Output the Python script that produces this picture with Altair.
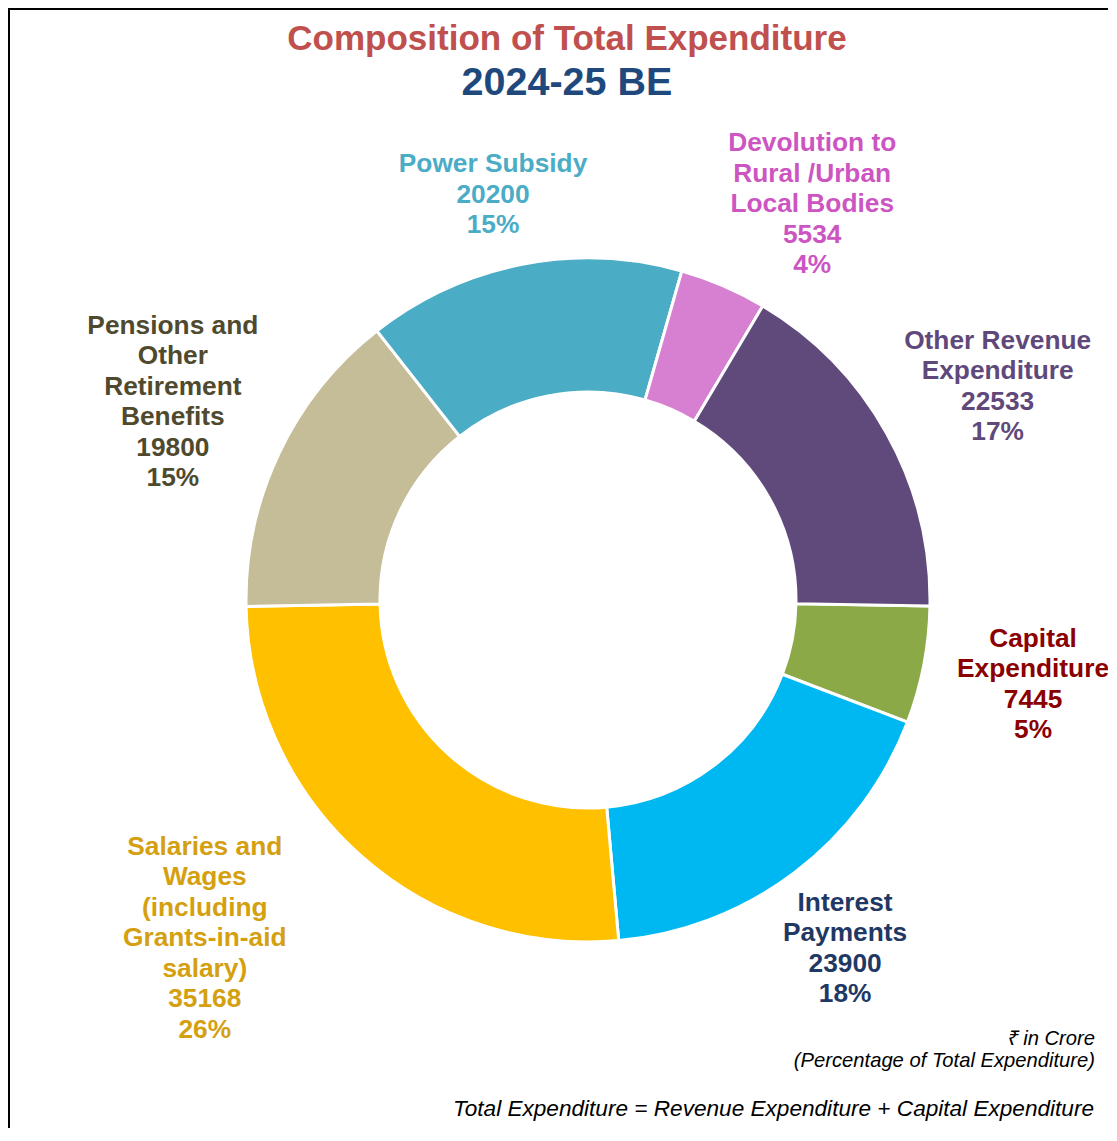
import math
import altair as alt
import pandas as pd

# ---- data ----
categories = [
    "Capital Expenditure",
    "Interest Payments",
    "Salaries and Wages (including Grants-in-aid salary)",
    "Pensions and Other Retirement Benefits",
    "Power Subsidy",
    "Devolution to Rural /Urban Local Bodies",
    "Other Revenue Expenditure",
]
label_lines = [
    ["Capital", "Expenditure"],
    ["Interest", "Payments"],
    ["Salaries and", "Wages", "(including", "Grants-in-aid", "salary)"],
    ["Pensions and", "Other", "Retirement", "Benefits"],
    ["Power Subsidy"],
    ["Devolution to", "Rural /Urban", "Local Bodies"],
    ["Other Revenue", "Expenditure"],
]
values = [7445, 23900, 35168, 19800, 20200, 5534, 22533]
percents = [5, 18, 26, 15, 15, 4, 17]

# ---- styling ----
slice_colors = ["#8BA946", "#00B8F1", "#FFC000", "#C4BD97", "#4BACC6", "#D77FD1", "#604A7B"]
text_colors = ["#8B0000", "#1F3864", "#D4A010", "#4F4A2E", "#4BACC6", "#CC55C2", "#5F497A"]
label_radius = [453, 433, 511, 460, 416, 455, 462]   # layout: label distance from centre
label_nudge = [-0.2, 0.7, 6.7, 0.1, -2.1, 6.2, 1.6]  # layout: angular nudge (deg)

START = math.radians(91)
CX, CY = 580, 592
R_OUT, R_IN = 342, 208
W, H = 1100, 1120
FONT = "Liberation Sans"
LH = 30.5

df = pd.DataFrame({
    "category": categories,
    "value": values,
    "ord": list(range(len(categories))),
    "fill": slice_colors,
    "tcol": text_colors,
    "label": ["\n".join(l + [str(v), f"{p}%"]) for l, v, p in zip(label_lines, values, percents)],
    "nlines": [len(l) + 2 for l in label_lines],
    "lr": label_radius,
    "nudge": label_nudge,
})

base = alt.Chart(df)

donut = base.mark_arc(outerRadius=R_OUT, innerRadius=R_IN, stroke="white", strokeWidth=3).encode(
    theta=alt.Theta("value:Q", stack=True, scale=alt.Scale(range=[START, START + 2 * math.pi])),
    order=alt.Order("ord:Q"),
    color=alt.Color("fill:N", scale=None),
    x=alt.value(CX),
    y=alt.value(CY),
    tooltip=["category:N", "value:Q"],
)

labels = base.transform_joinaggregate(
    total="sum(value)"
).transform_window(
    cum="sum(value)", sort=[alt.SortField("ord")], frame=[None, 0]
).transform_calculate(
    ang=f"{START} + 2*PI*(datum.cum - datum.value/2)/datum.total + datum.nudge*PI/180",
).transform_calculate(
    tx=f"{CX} + datum.lr*sin(datum.ang)",
    ty=f"{CY} - datum.lr*cos(datum.ang) - (datum.nlines - 1)*{LH}/2",
).mark_text(
    font=FONT, fontWeight="bold", fontSize=26.3, lineHeight=LH, lineBreak="\n",
    align="center", baseline="middle",
).encode(
    x=alt.X("tx:Q", scale=None, axis=None),
    y=alt.Y("ty:Q", scale=None, axis=None),
    text="label:N",
    color=alt.Color("tcol:N", scale=None),
)

def txt(s, x, y, **kw):
    return alt.Chart(pd.DataFrame({"t": [s]})).mark_text(font=FONT, **kw).encode(
        text="t:N", x=alt.value(x), y=alt.value(y)
    )

title1 = txt("Composition of Total Expenditure", 559, 42, fontSize=35, fontWeight="bold",
             color="#C0504D", align="center", baseline="alphabetic")
title2 = txt("2024-25 BE", 559, 87, fontSize=39.5, fontWeight="bold",
             color="#1F497D", align="center", baseline="alphabetic")
note1 = txt("₹ in Crore", 1087, 1037, fontSize=20.2, fontStyle="italic",
            color="black", align="right", baseline="alphabetic")
note2 = txt("(Percentage of Total Expenditure)", 1087, 1059, fontSize=20.2, fontStyle="italic",
            color="black", align="right", baseline="alphabetic")
note3 = txt("Total Expenditure = Revenue Expenditure + Capital Expenditure", 1086, 1108,
            fontSize=22.6, fontStyle="italic", color="black", align="right", baseline="alphabetic")

top_rule = alt.Chart(pd.DataFrame({"a": [0]})).mark_rule(color="black", strokeWidth=2).encode(
    x=alt.value(0), x2=alt.value(W), y=alt.value(1)
)
left_rule = alt.Chart(pd.DataFrame({"a": [0]})).mark_rule(color="black", strokeWidth=2).encode(
    x=alt.value(1), y=alt.value(0), y2=alt.value(H)
)

chart = alt.layer(
    top_rule, left_rule, donut, labels, title1, title2, note1, note2, note3
).properties(
    width=W, height=H, autosize=alt.AutoSizeParams(type="none"), padding=0,
    background="white",
).configure_view(stroke=None)

chart.save("out.html", embed_options={"renderer": "svg", "actions": False})
